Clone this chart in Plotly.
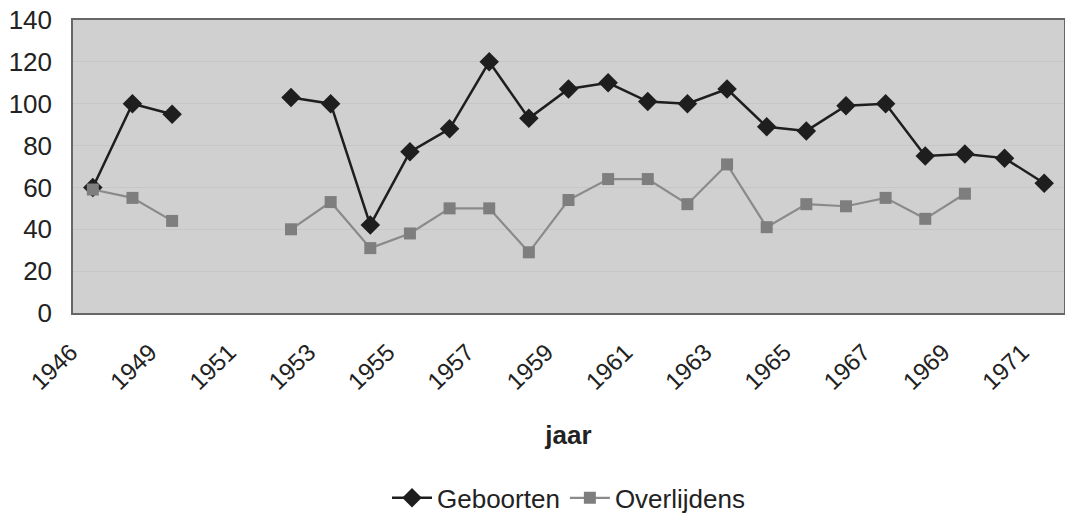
import plotly.graph_objects as go

years = ["1946", "1948", "1949", "1950", "1951", "1952", "1953", "1954", "1955",
         "1956", "1957", "1958", "1959", "1960", "1961", "1962", "1963", "1964",
         "1965", "1966", "1967", "1968", "1969", "1970", "1971"]
geboorten = [60, 100, 95, None, None, 103, 100, 42, 77, 88, 120, 93, 107, 110,
             101, 100, 107, 89, 87, 99, 100, 75, 76, 74, 62]
overlijdens = [59, 55, 44, None, None, 40, 53, 31, 38, 50, 50, 29, 54, 64,
               64, 52, 71, 41, 52, 51, 55, 45, 57, None, None]
tick_labels = years[0::2]

fig = go.Figure()
fig.add_trace(go.Scatter(
    x=years, y=geboorten, name="Geboorten", mode="lines+markers",
    connectgaps=False,
    line=dict(color="#1e1e1e", width=2.5),
    marker=dict(symbol="diamond", size=15, color="#1e1e1e"),
))
fig.add_trace(go.Scatter(
    x=years, y=overlijdens, name="Overlijdens", mode="lines+markers",
    connectgaps=False,
    line=dict(color="#8a8a8a", width=2.2),
    marker=dict(symbol="square", size=12, color="#7e7e7e"),
))

fig.update_layout(
    width=1065, height=513,
    margin=dict(l=73, r=1, t=20, b=200, autoexpand=False),
    paper_bgcolor="white",
    plot_bgcolor="#d0d0d0",
    font=dict(family="Liberation Sans, Arial, sans-serif", size=26, color="#222"),
    showlegend=True,
    legend=dict(orientation="h", x=0.5, xanchor="center", y=-0.631, yanchor="middle",
                font=dict(size=26), bgcolor="rgba(0,0,0,0)", itemwidth=40),
)
fig.update_xaxes(
    type="category", categoryorder="array", categoryarray=years,
    range=[-0.5, len(years) - 0.5],
    tickmode="array", tickvals=tick_labels, ticktext=tick_labels,
    tickangle=-44, tickfont=dict(size=24, color="#222"),
    ticklabelshift=-22, ticklabelstandoff=14, automargin=False,
    showgrid=False, showline=True, linecolor="#666", linewidth=1.5, mirror=True,
    ticks="",
    title=dict(text="<b>jaar</b>", font=dict(size=26, color="#222"), standoff=32),
)
fig.update_yaxes(
    range=[0, 140], dtick=20, tickfont=dict(size=26, color="#222"),
    ticklabelstandoff=14, automargin=False, ticklabeloverflow="allow",
    showgrid=True, gridcolor="#c6c6c6", gridwidth=1,
    showline=True, linecolor="#666", linewidth=1.5, mirror=True,
    ticks="", zeroline=False,
)

fig.write_html(
    "out.html",
    config={"displayModeBar": False},
    post_script="document.body.style.margin='0';document.body.style.overflow='hidden';",
)
